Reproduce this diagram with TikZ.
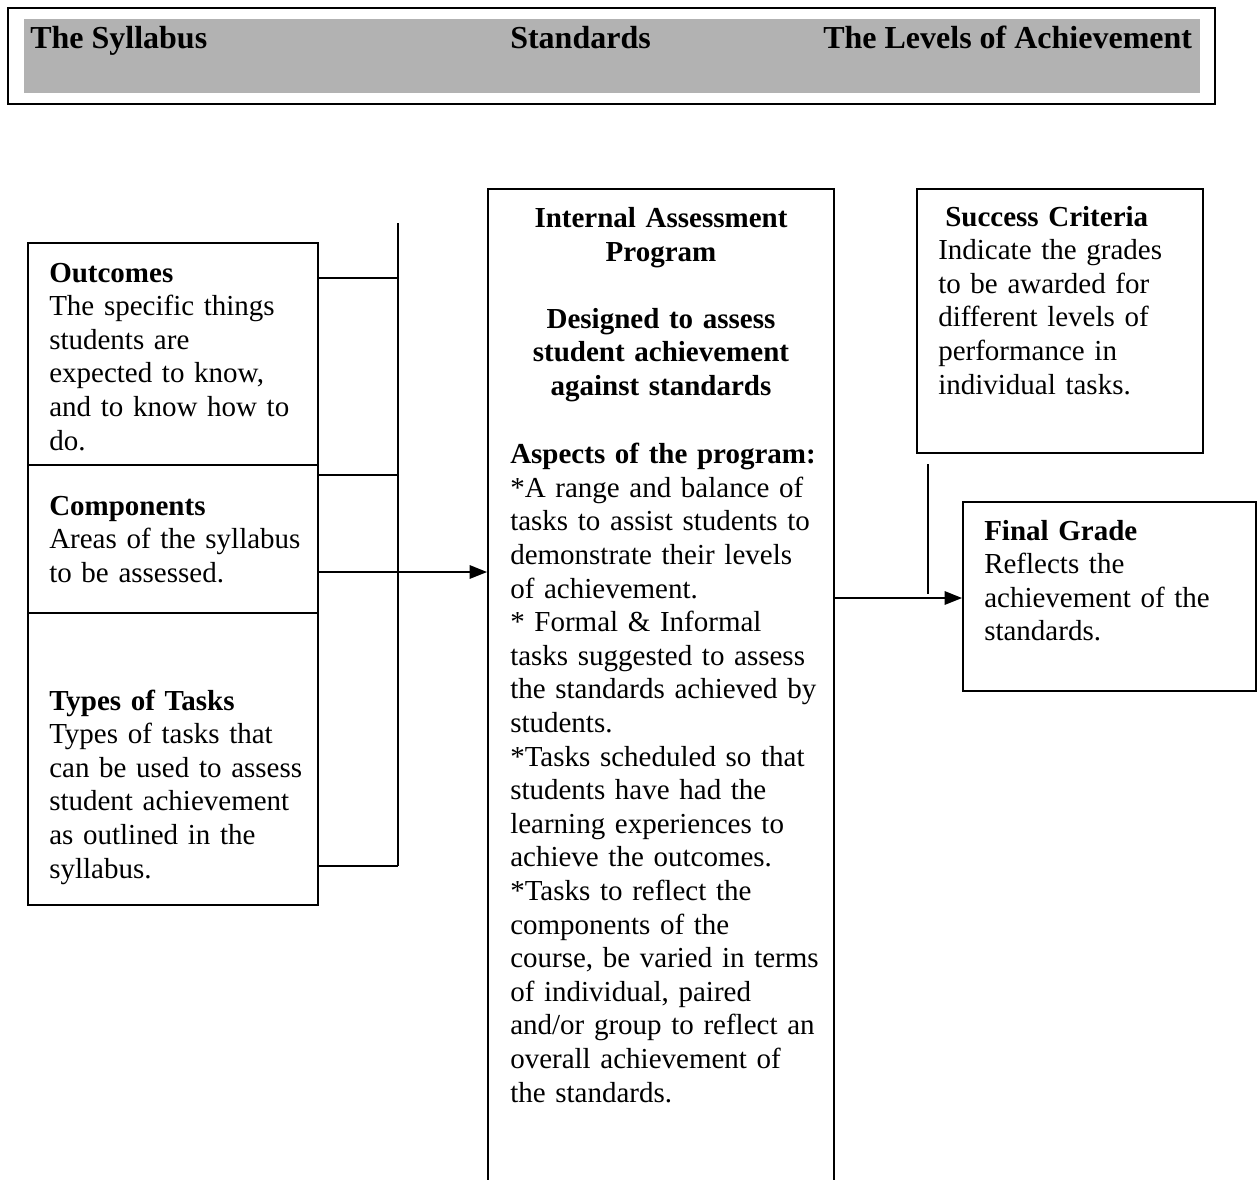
\documentclass[tikz,border=0pt]{standalone}
\usepackage{fontspec}
\setmainfont{Liberation Serif}
\usetikzlibrary{arrows.meta}
\usetikzlibrary{calc,positioning,fit}
\definecolor{bandgray}{HTML}{B2B2B2}

\begin{document}
\begin{tikzpicture}[x=0.75pt,y=-0.75pt,
  frame/.style={draw,line width=1.4pt,inner sep=0pt},
  txt/.style={inner sep=0pt,anchor=base west,align=left,text width=#1,
    font=\fontsize{21.75pt}{25.2pt}\selectfont},
  txt/.default=200pt,
  head/.style={inner sep=0pt,anchor=base west,
    font=\fontsize{24pt}{28pt}\selectfont\bfseries},
  arr/.style={-{Triangle[length=13pt,width=10pt]},line width=1.4pt}]
\useasboundingbox (0,0) rectangle (1257,1179);

% banner across the top
\node[fit={(8,8) (1215,104)},draw,line width=2.2pt,inner sep=0pt] (band) {};
\node[fit={(24,19) (1200,93)},fill=bandgray,inner sep=0pt] (shade) {};
\node[head] (syl) at (30,48) {The Syllabus};
\node[head] (std) at (510,48) {Standards};
\node[head] (lvl) at (823,48) {The Levels of Achievement};

% boxes
\node[frame,fit={(28,243) (318,465)}] (outc) {};
\node[frame,fit={(28,465) (318,613)}] (comp) {};
\node[frame,fit={(28,613) (318,905)}] (tasks) {};
\node[frame,fit={(488,189) (834,1200)}] (iap) {};
\node[frame,fit={(917,189) (1203,453)}] (succ) {};
\node[frame,fit={(963,502) (1256,691)}] (grade) {};

\node[txt] (outctxt) at (49,282) {\textbf{Outcomes}\\The specific things\\students are\\expected to know,\\and to know how to\\do.};
\node[txt] (comptxt) at (49,515) {\textbf{Components}\\Areas of the syllabus\\to be assessed.};
\node[txt] (taskstxt) at (49,710) {\textbf{Types of Tasks}\\Types of tasks that\\can be used to assess\\student achievement\\as outlined in the\\syllabus.};

\node[txt=250pt,anchor=base,align=center,font=\fontsize{21.75pt}{25.2pt}\selectfont\bfseries] (iaphead) at (661,227.5)
  {Internal Assessment\\Program\\[25.2pt]Designed to assess\\student achievement\\against standards};
\node[txt=245pt] (iapbody) at (510,463.6) {\textbf{Aspects of the program:}\\{*}A range and balance of\\tasks to assist students to\\demonstrate their levels\\of achievement.\\{*} Formal \& Informal\\tasks suggested to assess\\the standards achieved by\\students.\\{*}Tasks scheduled so that\\students have had the\\learning experiences to\\achieve the outcomes.\\{*}Tasks to reflect the\\components of the\\course, be varied in terms\\of individual, paired\\and/or group to reflect an\\overall achievement of\\the standards.};

\node[txt] (succtxt) at (938,226) {\hspace*{5.25pt}\textbf{Success Criteria}\\Indicate the grades\\to be awarded for\\different levels of\\performance in\\individual tasks.};
\node[txt] (gradetxt) at (984,540) {\textbf{Final Grade}\\Reflects the\\achievement of the\\standards.};

% bracket and arrows
\coordinate (bartop) at (398,223);
\coordinate (barbot) at (398,866);
\coordinate (t1) at (398,278);
\coordinate (t2) at (398,475);
\coordinate (a1) at (398,572);
\coordinate (g1) at (928,464);
\coordinate (g2) at (928,594);
\coordinate (a2) at (928,598);
\draw[line width=1.4pt] (bartop) -- (barbot);
\draw[line width=1.4pt] (t1 -| outc.east) -- (t1);
\draw[line width=1.4pt] (t2 -| comp.east) -- (t2);
\draw[line width=1.4pt] (barbot -| tasks.east) -- (barbot);
\draw[arr] (a1 -| comp.east) -- (a1 -| iap.west);
\draw[line width=1.4pt] (g1) -- (g2);
\draw[arr] (a2 -| iap.east) -- (a2 -| grade.west);
\end{tikzpicture}
\end{document}
